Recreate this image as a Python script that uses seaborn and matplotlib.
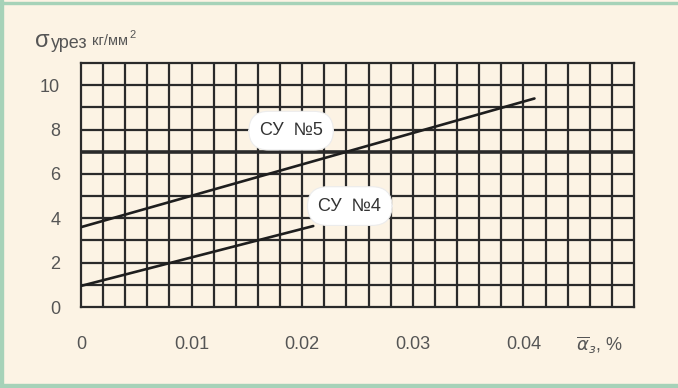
import numpy as np
import pandas as pd
import seaborn as sns
import matplotlib.pyplot as plt
from matplotlib.patches import Rectangle

# данные
su5_x = [0.0, 0.041]
su5_y = [3.6, 9.4]
su4_x = [0.0, 0.021]
su4_y = [0.95, 3.65]
x_ticks = [0, 0.01, 0.02, 0.03, 0.04, 0.05]
x_tick_labels = ['0', '0.01', '0.02', '0.03', '0.04', '']
y_ticks = [0, 2, 4, 6, 8, 10]

BG = '#fcf3e4'
GRID = '#2a2a2a'
TXT = '#555555'

sns.set_theme(style='white')
plt.rcParams['font.family'] = ['Liberation Sans', 'DejaVu Sans']
plt.rcParams['mathtext.fontset'] = 'dejavusans'

fig = plt.figure(figsize=(6.78, 3.88), dpi=100, facecolor=BG)
ax = fig.add_axes([81 / 678, 1 - 307 / 388, (634 - 81) / 678, (307 - 63) / 388])
ax.set_facecolor(BG)

df = pd.concat([
    pd.DataFrame({'x': su5_x, 'y': su5_y, 'серия': 'СУ №5'}),
    pd.DataFrame({'x': su4_x, 'y': su4_y, 'серия': 'СУ №4'}),
])
sns.lineplot(data=df, x='x', y='y', units='серия', estimator=None,
             color='#1e1e1e', lw=1.9, ax=ax, zorder=4)

ax.set_xlim(0, 0.05)
ax.set_ylim(0, 11)

# сетка: клетка 0.002 x 1
for gx in np.arange(0.002, 0.05, 0.002):
    ax.axvline(gx, color=GRID, lw=1.6, zorder=1)
for gy in range(1, 11):
    ax.axhline(gy, color=GRID, lw=2.6 if gy == 7 else 1.6, zorder=1)
for s in ax.spines.values():
    s.set_color(GRID)
    s.set_linewidth(1.6)

ax.set_xticks(x_ticks)
ax.set_xticklabels(x_tick_labels)
ax.set_yticks(y_ticks)
ax.tick_params(axis='both', direction='out', length=7, width=1.6, color=GRID,
               labelsize=13, labelcolor=TXT, pad=8)
ax.tick_params(axis='x', pad=14)
ax.set_xlabel('')
ax.set_ylabel('')

box = dict(boxstyle='round,pad=0.6,rounding_size=1.1', fc='white', ec='#ececec', lw=0.8)
ax.text(0.019, 7.95, 'СУ  №5', ha='center', va='center', fontsize=13,
        color='#333333', bbox=box, zorder=6)
ax.text(0.0243, 4.55, 'СУ  №4', ha='center', va='center', fontsize=13,
        color='#333333', bbox=box, zorder=6)

# подписи осей
fig.text(35 / 678, 1 - 47 / 388, 'σ', fontsize=17, color=TXT, va='baseline')
fig.text(51 / 678, 1 - 48 / 388, 'урез', fontsize=13, color=TXT, va='baseline')
fig.text(92 / 678, 1 - 45 / 388, 'кг/мм', fontsize=10.5, color=TXT, va='baseline')
fig.text(129 / 678, 1 - 38 / 388, '2', fontsize=8, color=TXT, va='baseline')
fig.text(576 / 678, 1 - 351 / 388, r'$\overline{\alpha}_{з}$, %', fontsize=13,
         color=TXT, va='baseline')

# зелёная рамка
fig.patches.append(Rectangle((0, 0), 3 / 678, 1, transform=fig.transFigure,
                             color='#a6d2b8', zorder=0))
fig.patches.append(Rectangle((0, 1 - 4 / 388), 1, 2 / 388, transform=fig.transFigure,
                             color='#a6d2b8', zorder=0))
fig.patches.append(Rectangle((0, 0), 1, 4 / 388, transform=fig.transFigure,
                             color='#a6d2b8', zorder=0))

fig.savefig('out.png', dpi=100, facecolor=BG)
